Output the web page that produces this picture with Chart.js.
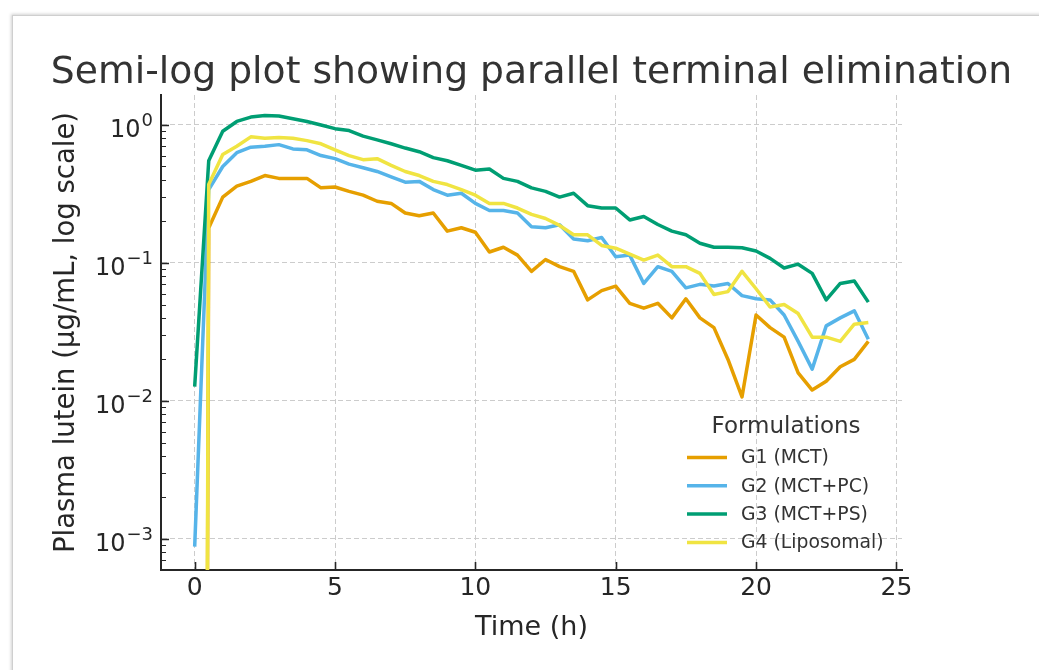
<!DOCTYPE html>
<html>
<head>
<meta charset="utf-8">
<script src="https://cdn.jsdelivr.net/npm/chart.js@4.4.1/dist/chart.umd.min.js"></script>
<style>
html,body{margin:0;padding:0;background:#fff;overflow:hidden}
#wrap{position:relative;width:1039px;height:670px;overflow:hidden}
#card{position:absolute;left:12px;top:15px;width:1100px;height:720px;border-top:1px solid #cfcfcf;border-left:1px solid #cfcfcf;box-shadow:-1px -1px 3px rgba(0,0,0,0.18);background:#fff}
canvas{position:absolute;left:0;top:0}
</style>
</head>
<body>
<div id="wrap"><div id="card"></div><canvas id="c" width="1039" height="670"></canvas></div>
<script>
// ---- data ----
const times = [0,0.5,1,1.5,2,2.5,3,3.5,4,4.5,5,5.5,6,6.5,7,7.5,8,8.5,9,9.5,10,10.5,11,11.5,12,12.5,13,13.5,14,14.5,15,15.5,16,16.5,17,17.5,18,18.5,19,19.5,20,20.5,21,21.5,22,22.5,23,23.5,24];

// 1e-30 stands for a zero concentration (clipped to the bottom of the log axis)
const g1 = [1e-30,0.179,0.30,0.36,0.39,0.43,0.41,0.41,0.41,0.35,0.355,0.33,0.31,0.28,0.27,0.23,0.22,0.23,0.17,0.18,0.167,0.12,0.13,0.114,0.087,0.106,0.094,0.087,0.054,0.063,0.068,0.051,0.047,0.051,0.040,0.055,0.040,0.034,0.020,0.0107,0.042,0.034,0.029,0.016,0.012,0.0139,0.0177,0.020,0.027];
const g2 = [0.00088,0.34,0.50,0.63,0.69,0.70,0.72,0.67,0.66,0.60,0.57,0.52,0.49,0.46,0.42,0.385,0.39,0.34,0.31,0.32,0.27,0.24,0.24,0.23,0.183,0.18,0.189,0.149,0.145,0.153,0.111,0.114,0.071,0.094,0.087,0.066,0.070,0.068,0.071,0.058,0.055,0.054,0.042,0.027,0.017,0.035,0.040,0.045,0.028];
const g3 = [0.0127,0.55,0.90,1.06,1.14,1.17,1.16,1.11,1.06,1.00,0.94,0.91,0.83,0.78,0.73,0.68,0.64,0.58,0.55,0.51,0.47,0.48,0.41,0.39,0.35,0.33,0.30,0.32,0.26,0.25,0.25,0.205,0.217,0.19,0.17,0.16,0.139,0.13,0.130,0.129,0.122,0.108,0.092,0.098,0.084,0.054,0.071,0.074,0.052];
const g4 = [1e-30,0.37,0.61,0.70,0.82,0.80,0.81,0.80,0.77,0.73,0.66,0.60,0.56,0.57,0.51,0.46,0.43,0.39,0.37,0.34,0.31,0.27,0.27,0.25,0.225,0.21,0.187,0.16,0.16,0.134,0.128,0.116,0.105,0.114,0.094,0.094,0.084,0.059,0.062,0.087,0.065,0.048,0.050,0.043,0.029,0.029,0.027,0.036,0.037];

const seriesNames = ['G1 (MCT)','G2 (MCT+PC)','G3 (MCT+PS)','G4 (Liposomal)'];
const seriesColors = ['#E69F00','#56B4E9','#009E73','#F0E442'];

const xTicks = [0,5,10,15,20,25];
const yTicks = [0.001,0.01,0.1,1];
const yTickBase = ['10','10','10','10'];
const yTickExp = ['\u22123','\u22122','\u22121','0'];
const yMinorTicks = [0.0006,0.0007,0.0008,0.0009,0.002,0.003,0.004,0.005,0.006,0.007,0.008,0.009,0.02,0.03,0.04,0.05,0.06,0.07,0.08,0.09,0.2,0.3,0.4,0.5,0.6,0.7,0.8,0.9];

const titleText = 'Semi-log plot showing parallel terminal elimination';
const xTitle = 'Time (h)';
const yTitle = 'Plasma lutein (\u00B5g/mL, log scale)';
const legendTitle = 'Formulations';

// ---- chart ----
const FONT = "'DejaVu Sans', sans-serif";
const TXT = '#262626';

const allSeries = [g1,g2,g3,g4];
const datasets = allSeries.map((vals, i) => ({
  label: seriesNames[i],
  data: times.map((t, k) => ({x: t, y: vals[k]})),
  borderColor: seriesColors[i],
  backgroundColor: seriesColors[i],
  borderWidth: 3.5,
  pointRadius: 0,
  pointHoverRadius: 0,
  tension: 0,
  fill: false,
  order: 3 - i,
  borderJoinStyle: 'round',
  borderCapStyle: 'butt'
}));

const decorPlugin = {
  id: 'decor',
  afterDraw(chart) {
    const ctx = chart.ctx;
    const ca = chart.chartArea;
    const xs = chart.scales.x, ys = chart.scales.y;
    ctx.save();
    // title
    ctx.fillStyle = '#333333';
    ctx.font = '37.7px ' + FONT;
    ctx.textAlign = 'center';
    ctx.textBaseline = 'alphabetic';
    ctx.fillText(titleText, (ca.left + ca.right) / 2, 83);
    // y tick labels: 10 with superscript exponent
    ctx.fillStyle = TXT;
    yTicks.forEach((v, i) => {
      const py = ys.getPixelForValue(v);
      const right = ca.left - 8;
      ctx.font = '18px ' + FONT;
      const ew = ctx.measureText(yTickExp[i]).width;
      ctx.textAlign = 'right';
      ctx.textBaseline = 'alphabetic';
      ctx.fillText(yTickExp[i], right, py + 1);
      ctx.font = '24px ' + FONT;
      ctx.fillText(yTickBase[i], right - ew - 1, py + 12);
    });
    // inward tick marks
    ctx.strokeStyle = TXT;
    ctx.lineWidth = 1.6;
    ctx.beginPath();
    xTicks.forEach(v => {
      const px = Math.round(xs.getPixelForValue(v)) + 0.5;
      ctx.moveTo(px, ca.bottom);
      ctx.lineTo(px, ca.bottom - 8);
    });
    yTicks.forEach(v => {
      const py = Math.round(ys.getPixelForValue(v)) + 0.5;
      ctx.moveTo(ca.left, py);
      ctx.lineTo(ca.left + 8, py);
    });
    ctx.stroke();
    ctx.lineWidth = 1.2;
    ctx.beginPath();
    yMinorTicks.forEach(v => {
      const py = Math.round(ys.getPixelForValue(v)) + 0.5;
      if (py < ca.top || py > ca.bottom) return;
      ctx.moveTo(ca.left, py);
      ctx.lineTo(ca.left + 5, py);
    });
    ctx.stroke();
    // legend
    ctx.fillStyle = '#333333';
    ctx.font = '23px ' + FONT;
    ctx.textAlign = 'center';
    ctx.textBaseline = 'middle';
    ctx.fillText(legendTitle, 786, 427);
    ctx.font = '18.8px ' + FONT;
    ctx.textAlign = 'left';
    chart.data.datasets.forEach((ds, i) => {
      const y = 457.5 + i * 28.3;
      ctx.strokeStyle = ds.borderColor;
      ctx.lineWidth = 3.5;
      ctx.beginPath();
      ctx.moveTo(687, y);
      ctx.lineTo(727, y);
      ctx.stroke();
      ctx.fillStyle = '#333333';
      ctx.fillText(ds.label, 741, y + 1);
    });
    ctx.restore();
  }
};

new Chart(document.getElementById('c'), {
  type: 'line',
  data: { datasets },
  options: {
    responsive: false,
    animation: false,
    devicePixelRatio: 1,
    layout: { padding: { left: 0, right: 137, top: 95, bottom: 0 } },
    plugins: { legend: { display: false }, title: { display: false }, tooltip: { enabled: false } },
    scales: {
      x: {
        type: 'linear',
        min: -1.2,
        max: 25.2,
        afterBuildTicks: s => { s.ticks = xTicks.map(v => ({ value: v })); },
        afterFit: s => { s.height = 100; s.paddingLeft = 0; s.paddingRight = 0; },
        grid: { color: '#cccccc', lineWidth: 1, drawTicks: false },
        border: { display: true, color: TXT, width: 2, dash: [5, 3] },
        ticks: { font: { family: FONT, size: 25 }, color: TXT, padding: 3, maxRotation: 0, autoSkip: false, callback: v => String(v) },
        title: { display: true, text: xTitle, font: { family: FONT, size: 27 }, color: TXT, padding: { top: 0, bottom: 26 } }
      },
      y: {
        type: 'logarithmic',
        min: 0.000596,
        max: 1.648,
        afterBuildTicks: s => { s.ticks = yTicks.map(v => ({ value: v, major: true })); },
        afterFit: s => { s.width = 161; s.paddingTop = 0; s.paddingBottom = 0; },
        grid: { color: '#cccccc', lineWidth: 1, drawTicks: false },
        border: { display: true, color: TXT, width: 2, dash: [5, 3] },
        ticks: { display: false },
        title: { display: true, text: yTitle, font: { family: FONT, size: 27.5 }, color: TXT, padding: { top: 50, bottom: 0 } }
      }
    }
  },
  plugins: [decorPlugin]
});
</script>
</body>
</html>
